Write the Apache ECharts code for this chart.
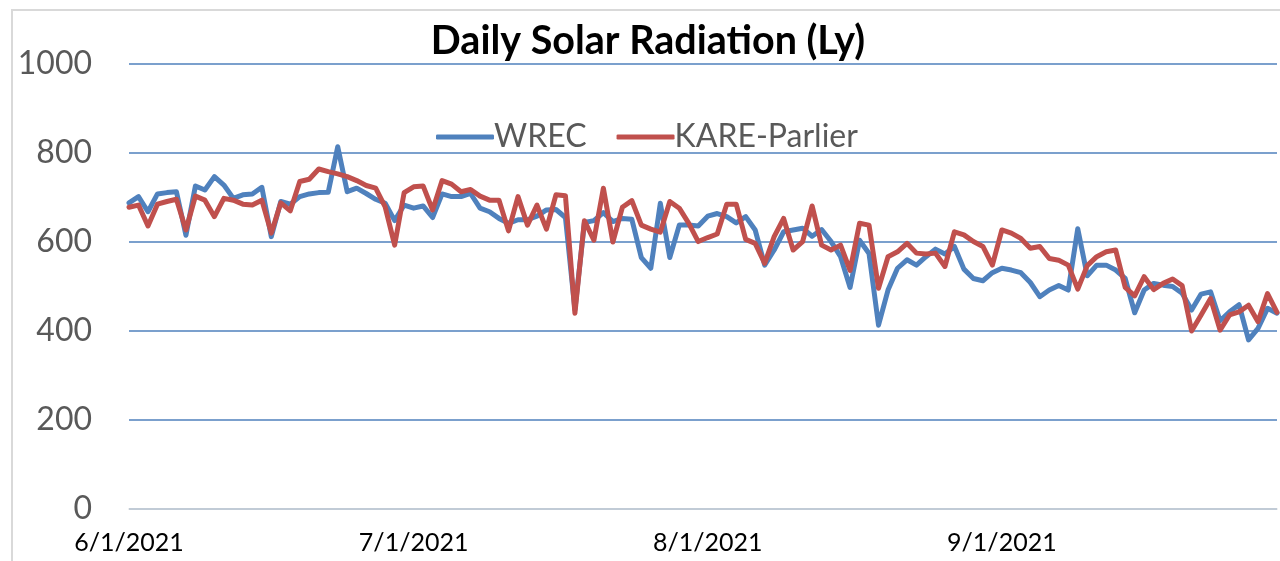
<!DOCTYPE html>
<html>
<head>
<meta charset="utf-8">
<title>Daily Solar Radiation (Ly)</title>
<script src="https://cdn.jsdelivr.net/npm/echarts@6/dist/echarts.min.js"></script>
<style>
  html, body { margin: 0; padding: 0; background: #fff; }
  #chart { width: 1280px; height: 561px; }
</style>
</head>
<body>
<div id="chart"></div>
<script>
// daily values 6/1/2021 .. 9/30/2021
var startDate = new Date(2021, 5, 1);
var dayCount = 122;

var wrec = [
  688, 702, 668, 708, 711, 713, 615, 726, 717, 747,
  728, 698, 706, 708, 723, 612, 691, 685, 702, 708,
  711, 712, 814, 713, 721, 709, 696, 687, 648, 683,
  676, 681, 655, 708, 702, 702, 709, 676, 668, 653,
  642, 650, 650, 658, 672, 673, 655, 448, 644, 648,
  666, 646, 653, 651, 565, 541, 687, 565, 638, 638,
  636, 658, 664, 657, 643, 657, 627, 548, 582, 623,
  627, 631, 613, 628, 601, 567, 498, 604, 574, 413,
  492, 541, 560, 548, 567, 584, 573, 590, 539, 518,
  513, 531, 541, 537, 531, 509, 477, 492, 502, 492,
  630, 524, 548, 548, 537, 518, 441, 492, 507, 503,
  500, 485, 447, 483, 488, 423, 443, 459, 380, 406,
  451, 440
];

var kareParlier = [
  678, 683, 636, 685, 691, 696, 627, 703, 694, 657,
  698, 694, 685, 683, 694, 620, 688, 670, 736, 741,
  764, 758, 753, 747, 738, 727, 721, 679, 593, 711,
  724, 726, 672, 738, 730, 713, 718, 703, 694, 694,
  625, 702, 638, 683, 629, 706, 704, 440, 648, 604,
  721, 600, 678, 693, 638, 629, 622, 691, 676, 642,
  601, 610, 618, 685, 685, 606, 597, 552, 612, 653,
  582, 601, 681, 593, 582, 593, 536, 642, 638, 496,
  567, 578, 597, 575, 573, 575, 545, 623, 616, 601,
  590, 548, 627, 620, 608, 586, 590, 563, 559, 548,
  494, 547, 567, 578, 582, 498, 479, 522, 493, 507,
  517, 502, 400, 436, 473, 402, 436, 443, 458, 421,
  484, 442
];

var tickLabels = ['6/1/2021', '7/1/2021', '8/1/2021', '9/1/2021'];
var yTicks = [0, 200, 400, 600, 800, 1000];

var days = [];
for (var i = 0; i < dayCount; i++) {
  var d = new Date(startDate.getTime());
  d.setDate(startDate.getDate() + i);
  days.push((d.getMonth() + 1) + '/' + d.getDate() + '/' + d.getFullYear());
}

var chart = echarts.init(document.getElementById('chart'));

var option = {
  animation: false,
  backgroundColor: '#ffffff',
  title: {
    text: 'Daily Solar Radiation (Ly)',
    left: 643,
    textAlign: 'center',
    top: 16,
    textStyle: {
      fontFamily: 'Lato',
      fontSize: 39.5,
      fontWeight: 'bold',
      color: '#000000'
    }
  },
  legend: {
    left: 431,
    top: 116,
    icon: 'roundRect',
    itemWidth: 58,
    itemHeight: 5,
    itemGap: 30,
    textStyle: {
      fontFamily: 'Lato',
      fontSize: 32,
      color: '#595959',
      padding: [0, 0, 0, -5]
    },
    data: ['WREC', 'KARE-Parlier']
  },
  grid: {
    left: 129,
    right: 3,
    top: 64,
    bottom: 52
  },
  xAxis: {
    type: 'category',
    data: days,
    boundaryGap: false,
    axisLine: { show: true, lineStyle: { color: '#d9d9d9', width: 1.5 } },
    axisTick: { show: false },
    axisLabel: {
      interval: function (idx, val) { return tickLabels.indexOf(val) >= 0; },
      fontFamily: 'Lato',
      fontSize: 25,
      color: '#000000',
      margin: 21
    },
    splitLine: { show: false }
  },
  yAxis: {
    type: 'value',
    min: yTicks[0],
    max: yTicks[yTicks.length - 1],
    interval: 200,
    axisLine: { show: false },
    axisTick: { show: false },
    axisLabel: {
      fontFamily: 'Lato',
      fontSize: 32,
      color: '#595959',
      margin: 37,
      formatter: function (v) { return String(v); }
    },
    splitLine: { lineStyle: { color: '#4f81bd', width: 1.5 } }
  },
  series: [
    {
      name: 'WREC',
      type: 'line',
      data: wrec,
      symbol: 'none',
      color: '#4f81bd',
      lineStyle: { width: 5, color: '#4f81bd', join: 'round', cap: 'round' }
    },
    {
      name: 'KARE-Parlier',
      type: 'line',
      data: kareParlier,
      symbol: 'none',
      color: '#c0504d',
      lineStyle: { width: 5, color: '#c0504d', join: 'round', cap: 'round' }
    }
  ],
  graphic: [
    {
      type: 'rect',
      silent: true,
      shape: { x: 12, y: 10, width: 1300, height: 600 },
      style: { fill: 'none', stroke: '#d9d9d9', lineWidth: 2 }
    }
  ]
};

chart.setOption(option);
</script>
</body>
</html>
